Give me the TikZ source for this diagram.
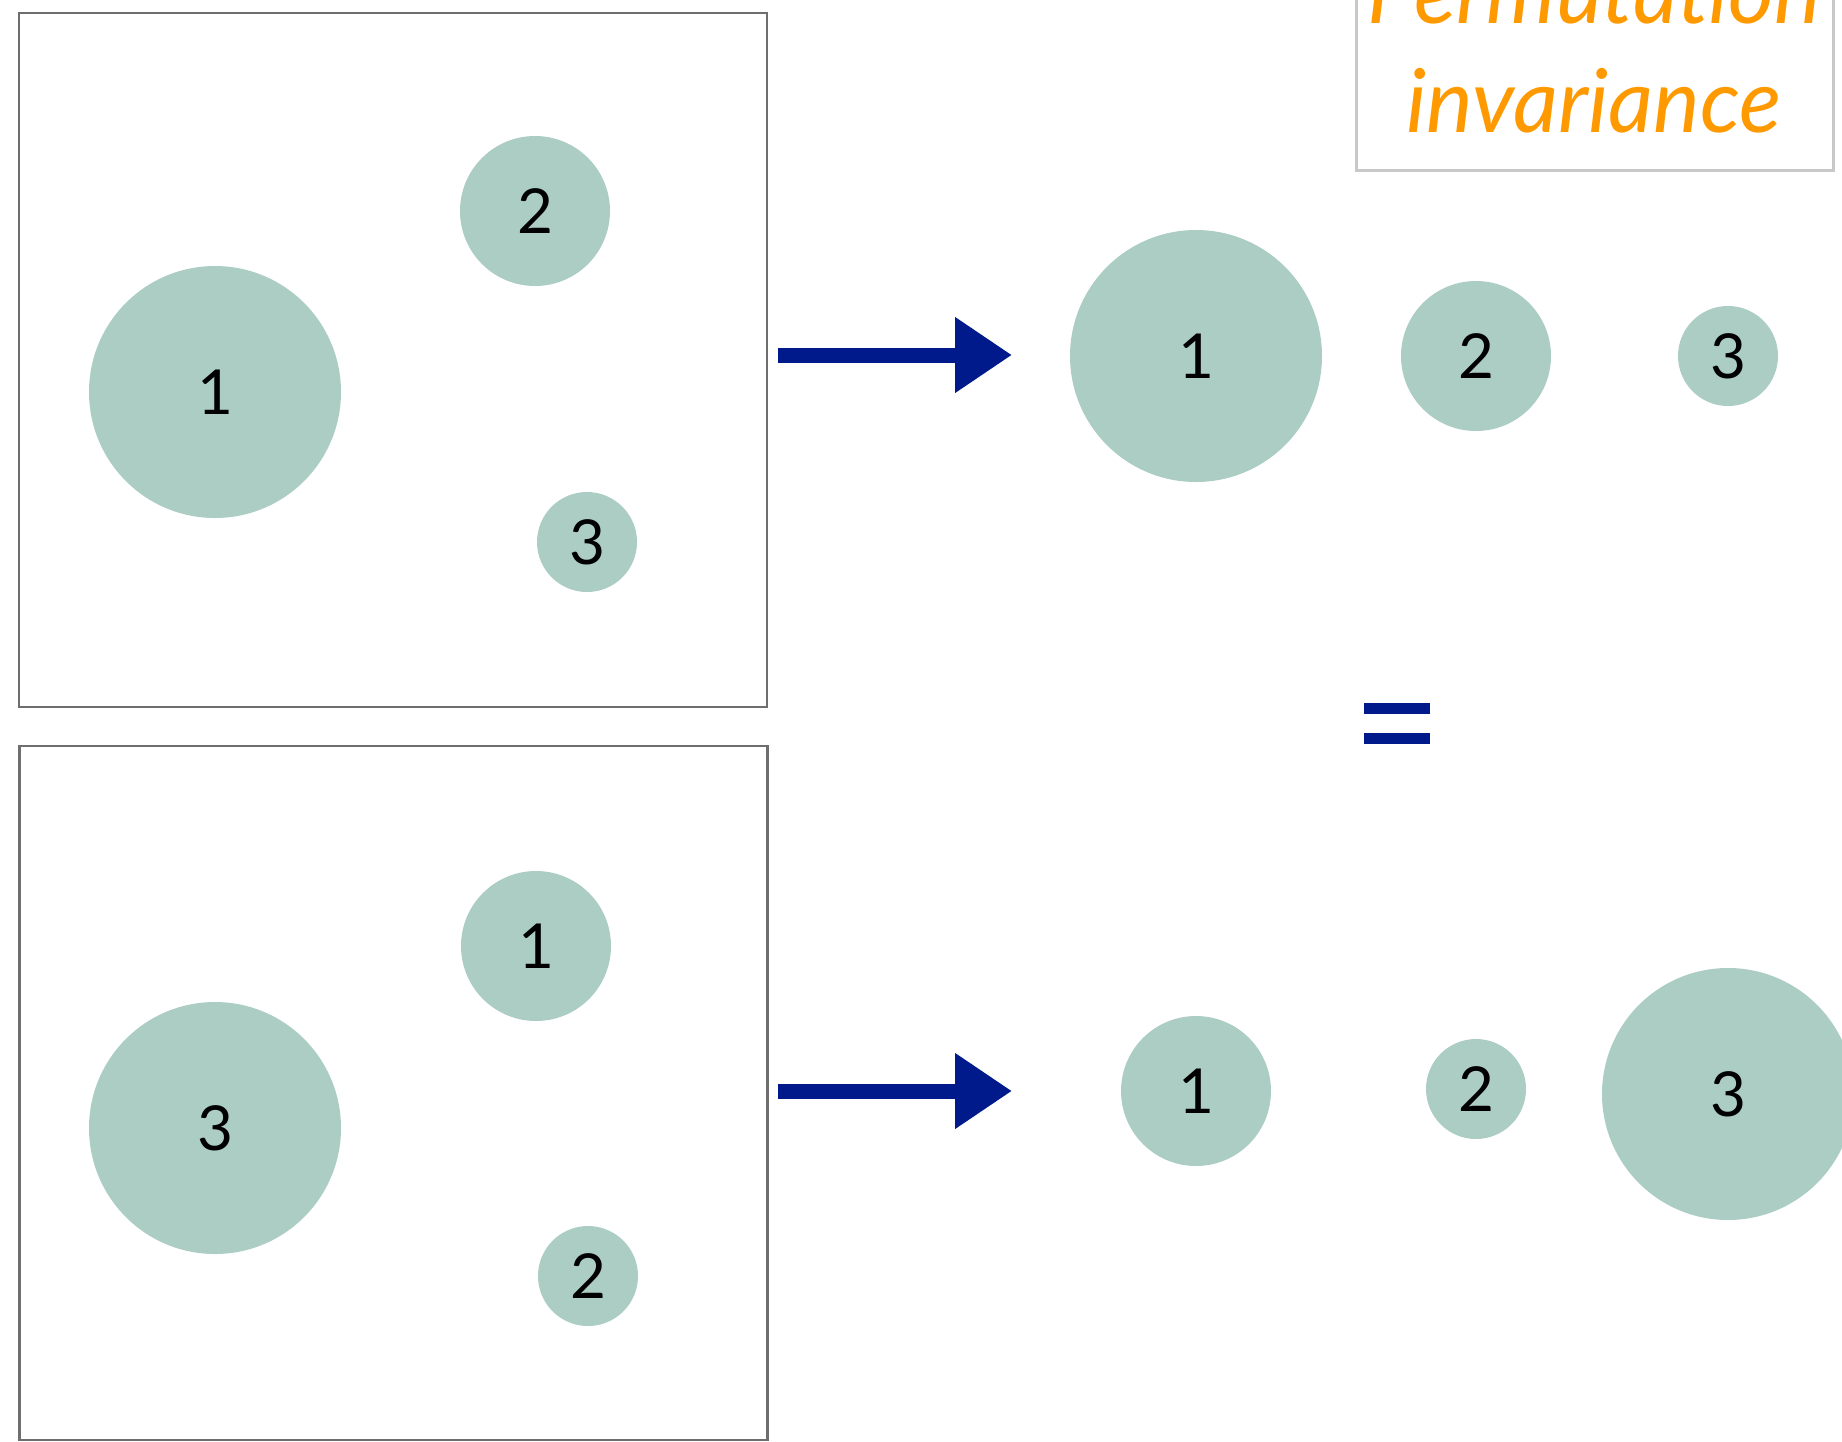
\documentclass[tikz,border=0pt]{standalone}
\usepackage{fontspec}
\setmainfont{Lato}
\usetikzlibrary{arrows.meta}
\definecolor{disc}{RGB}{172,205,196}
\definecolor{frame}{RGB}{110,110,110}
\definecolor{arrowblue}{RGB}{0,26,140}
\definecolor{titleorange}{RGB}{255,153,0}
\definecolor{titleframe}{RGB}{200,200,200}
\tikzset{
  big/.style={circle, fill=disc, draw=none, minimum size=252pt, inner sep=0pt, font=\fontsize{62}{62}\selectfont},
  mid/.style={circle, fill=disc, draw=none, minimum size=150pt, inner sep=0pt, font=\fontsize{62}{62}\selectfont},
  small/.style={circle, fill=disc, draw=none, minimum size=100pt, inner sep=0pt, font=\fontsize{62}{62}\selectfont},
  panel/.style={draw=frame, line width=2.5pt, fill=none},
  maparrow/.style={draw=arrowblue, line width=15pt, -{Triangle[length=57pt,width=72pt]}},
  titletext/.style={text=titleorange, inner sep=0pt, font=\fontsize{88}{100}\selectfont\itshape},
  titlebox/.style={draw=titleframe, line width=3pt, fill=white, inner sep=0pt}
}
\begin{document}
\begin{tikzpicture}[x=1pt,y=-1pt]
\useasboundingbox (0,0) rectangle (1842,1441);
\clip (0,0) rectangle (1842,1441);
% panels
\node[panel, minimum width=748pt, minimum height=694pt, inner sep=0pt] (p1) at (393,360) {};
\node[panel, minimum width=748pt, minimum height=694pt, inner sep=0pt] (p2) at (393.5,1093) {};
% top left discs
\node[big] (a1) at (215,392) {1};
\node[mid] (a2) at (535,211) {2};
\node[small] (a3) at (587,542) {3};
% bottom left discs
\node[big] (b3) at (215,1128) {3};
\node[mid] (b1) at (536,946) {1};
\node[small] (b2) at (588,1276) {2};
% top right discs
\node[big] (c1) at (1196,356) {1};
\node[mid] (c2) at (1476,356) {2};
\node[small] (c3) at (1728,356) {3};
% bottom right discs
\node[mid] (d1) at (1196,1091) {1};
\node[small] (d2) at (1476,1089) {2};
\node[big] (d3) at (1728,1094) {3};
% arrows
\coordinate (s1) at (778,355);
\coordinate (e1) at (1012,355);
\coordinate (s2) at (778,1091);
\coordinate (e2) at (1012,1091);
\draw[maparrow] (s1) -- (e1);
\draw[maparrow] (s2) -- (e2);
% equals sign
\fill[arrowblue] (1364,703) rectangle (1430,714);
\fill[arrowblue] (1364,733) rectangle (1430,744);
% title
\node[titlebox, minimum width=477pt, minimum height=250pt] (tb) at (1594.5,45) {};
\node[titletext, anchor=base] (t1) at (1594,23) {Permutation};
\node[titletext, anchor=base] (t2) at (1594,132) {invariance};
\end{tikzpicture}
\end{document}
